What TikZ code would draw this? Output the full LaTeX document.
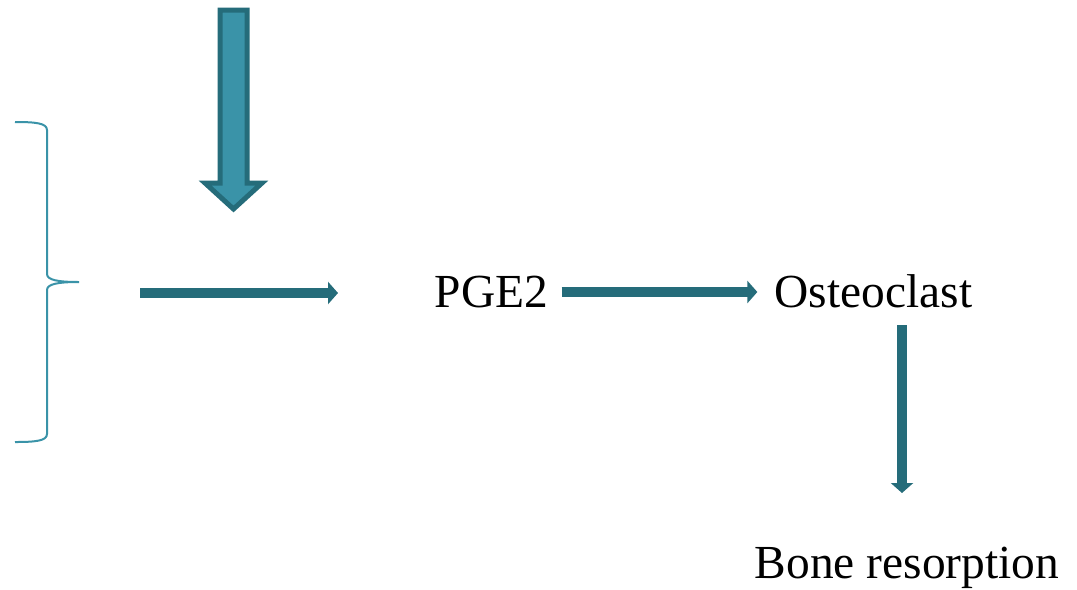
\documentclass[tikz,border=0pt]{standalone}
\usepackage{fontspec}
\setmainfont{Liberation Serif}
\usetikzlibrary{arrows.meta, positioning}
\definecolor{tealdark}{RGB}{37,108,122}
\definecolor{teallight}{RGB}{58,147,168}
\tikzstyle{term}=[font=\fontsize{27}{32}\selectfont, inner sep=0pt, text height=0.64cm, text depth=0.04cm, anchor=base]
\tikzstyle{flow}=[draw=tealdark, line width=0.2cm, -{Triangle[length=0.2cm,width=0.44cm]}]

\begin{document}
\begin{tikzpicture}[x=0.02cm,y=-0.02cm]
  \useasboundingbox (0,0) rectangle (1077,589);
  % big input arrow
  \filldraw[fill=teallight, draw=tealdark, line width=0.1cm, line join=miter]
    (220,10) -- (247,10) -- (247,183) -- (262,183) -- (233.5,209) -- (205,183) -- (220,183) -- cycle;
  % brace
  \draw[teallight, line width=0.04cm]
    (15,122) .. controls (35,122) and (47,123) .. (47,130) -- (47,274)
    .. controls (47,280) and (58,282) .. (79,282)
    .. controls (58,282) and (47,284) .. (47,290) -- (47,434)
    .. controls (47,441) and (35,442) .. (15,442);
  \node[term] (pge) at (491.5,307) {PGE2};
  \node[term] (ost) at (873.5,307) {Osteoclast};
  \node[term] (bone) at (907,578) {Bone resorption};
  \coordinate (in0) at (140,293);
  \coordinate (in1) at (338,293);
  \coordinate (down0) at (902,325);
  \coordinate (down1) at (902,493);
  \draw[flow] (in0) -- (in1);
  \draw[flow] ([xshift=0.26cm]pge.east) -- ([xshift=-0.34cm]ost.west);
  \draw[flow] (down0) -- (down1);
\end{tikzpicture}
\end{document}
